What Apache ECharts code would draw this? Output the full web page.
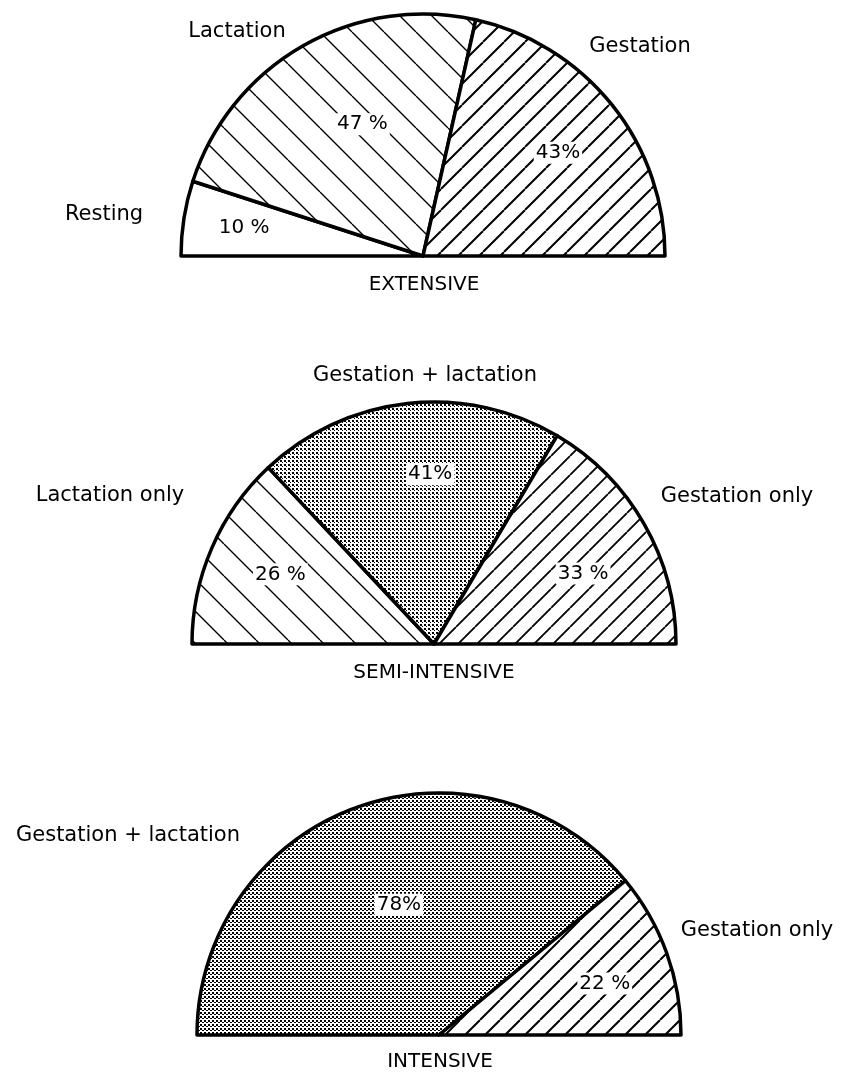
<!DOCTYPE html>
<html>
<head>
<meta charset="utf-8">
<script src="https://cdn.jsdelivr.net/npm/echarts@6/dist/echarts.min.js"></script>
<style>
  html, body { margin: 0; padding: 0; background: #fff; }
  #chart { width: 850px; height: 1072px; }
</style>
</head>
<body>
<div id="chart"></div>
<script>
// 数据
const systemTitles = ['EXTENSIVE', 'SEMI-INTENSIVE', 'INTENSIVE'];

const extensiveNames = ['Resting', 'Lactation', 'Gestation'];
const extensiveValues = [10, 47, 43];
const extensiveLabels = ['10 %', '47 %', '43%'];

const semiNames = ['Lactation only', 'Gestation + lactation', 'Gestation only'];
const semiValues = [26, 41, 33];
const semiLabels = ['26 %', '41%', '33 %'];

const intensiveNames = ['Gestation + lactation', 'Gestation only'];
const intensiveValues = [78, 22];
const intensiveLabels = ['78%', '22 %'];

// 布局
const FONT = '"DejaVu Sans", sans-serif';
const R = 242;
const centers = [[423, 256], [434, 644], [439, 1035]];
const titlePos = [[424, 285], [434, 673], [440, 1062]];
const namePos = [
  [[104, 215], [237, 32], [640, 47]],
  [[110, 496], [425, 376], [737, 497]],
  [[128, 836], [757, 931]],
];
// 百分比标签: [径向放大, 顺时针偏转角度]
const labelShift = [
  [[1.46, 0], [1.17, 5], [1.37, 1.3]],
  [[1.36, 1], [1.37, 5], [1.33, 4.4]],
  [[1.10, 2.7], [1.40, 2.5]],
];

function hatch(size, dir, lw) {
  const c = document.createElement('canvas');
  c.width = c.height = size;
  const g = c.getContext('2d');
  g.fillStyle = '#fff';
  g.fillRect(0, 0, size, size);
  g.strokeStyle = '#000';
  g.lineWidth = lw;
  g.beginPath();
  for (let k = -1; k <= 1; k++) {
    if (dir === '\\') {
      g.moveTo(k * size, 0);
      g.lineTo(k * size + size, size);
    } else {
      g.moveTo(k * size + size, 0);
      g.lineTo(k * size, size);
    }
  }
  g.stroke();
  return { image: c, repeat: 'repeat' };
}

function dots(size, a, b) {
  const c = document.createElement('canvas');
  c.width = c.height = size;
  const g = c.getContext('2d');
  g.fillStyle = '#fff';
  g.fillRect(0, 0, size, size);
  g.fillStyle = '#000';
  g.fillRect(0, 0, a, a);
  g.fillRect(size / 2, size / 2, b[0], b[1]);
  return { image: c, repeat: 'repeat' };
}

const fills = [
  ['#fff', hatch(32, '\\', 1.4), hatch(21, '/', 2)],
  [hatch(32, '\\', 1.4), dots(4, 2, [1, 1]), hatch(19, '/', 1.8)],
  [dots(4, 2, [2, 1]), hatch(20, '/', 2)],
];

function halfPie(idx, names, values, labels) {
  return {
    type: 'pie',
    center: centers[idx],
    radius: R,
    startAngle: 180,
    endAngle: 360,
    clockwise: true,
    silent: true,
    animation: false,
    itemStyle: { borderColor: '#000', borderWidth: 3.5, borderJoin: 'round' },
    label: {
      show: true,
      position: 'inside',
      formatter: (p) => labels[p.dataIndex],
      fontFamily: FONT,
      fontSize: 20,
      color: '#000',
      backgroundColor: '#fff',
      padding: [1, 2],
    },
    labelLine: { show: false },
    labelLayout: function (params) {
      const sh = labelShift[idx][params.dataIndex];
      const c = centers[idx];
      const r = params.labelRect;
      const vx = r.x + r.width / 2 - c[0];
      const vy = r.y + r.height / 2 - c[1];
      const len = Math.sqrt(vx * vx + vy * vy) * sh[0];
      const ang = Math.atan2(vy, vx) + (sh[1] * Math.PI) / 180;
      return { x: c[0] + len * Math.cos(ang), y: c[1] + len * Math.sin(ang) };
    },
    data: names.map((n, i) => ({ name: n, value: values[i], itemStyle: { color: fills[idx][i] } })),
  };
}

function txt(text, pos, size) {
  return {
    type: 'text',
    x: pos[0],
    y: pos[1],
    silent: true,
    style: {
      text: text,
      font: size + 'px ' + FONT,
      fill: '#000',
      align: 'center',
      verticalAlign: 'middle',
      textAlign: 'center',
      textVerticalAlign: 'middle',
    },
  };
}

const allNames = [extensiveNames, semiNames, intensiveNames];
const graphics = [];
systemTitles.forEach((t, i) => graphics.push(txt(t, titlePos[i], 20)));
allNames.forEach((list, i) => list.forEach((n, j) => graphics.push(txt(n, namePos[i][j], 21))));

const option = {
  backgroundColor: '#fff',
  animation: false,
  graphic: graphics,
  series: [
    halfPie(0, extensiveNames, extensiveValues, extensiveLabels),
    halfPie(1, semiNames, semiValues, semiLabels),
    halfPie(2, intensiveNames, intensiveValues, intensiveLabels),
  ],
};

const chartMy = echarts.init(document.getElementById('chart'));
chartMy.setOption(option);
</script>
</body>
</html>
